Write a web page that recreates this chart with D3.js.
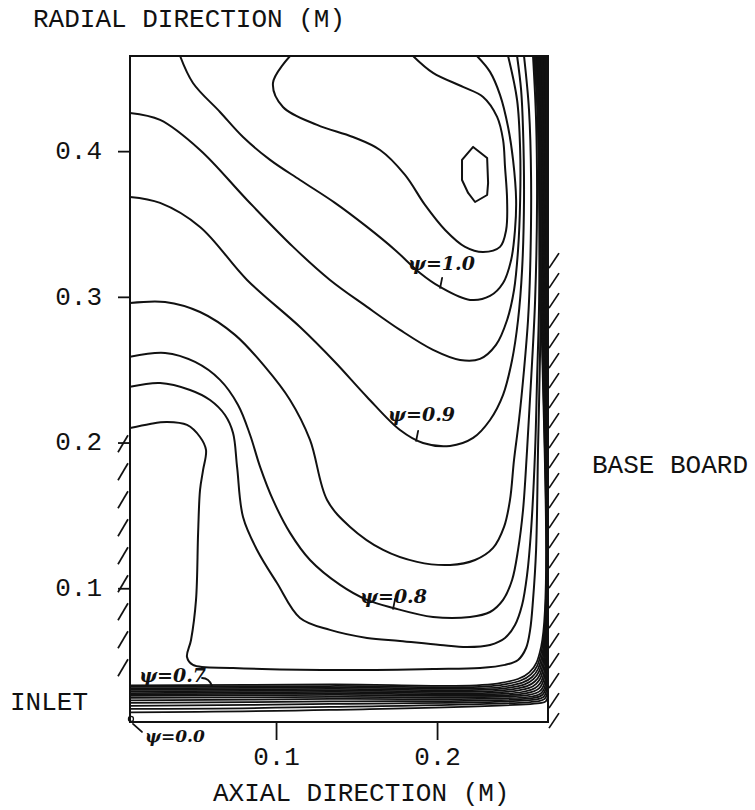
<!DOCTYPE html>
<html>
<head>
<meta charset="utf-8">
<script src="https://cdn.jsdelivr.net/npm/d3@7"></script>
<style>
  html, body { margin: 0; padding: 0; background: #fff; }
  svg { display: block; }
  .mono { font-family: "Liberation Mono", "Courier New", monospace; font-size: 26px; fill: #111; }
  .psi { font-family: "DejaVu Serif", "Liberation Serif", serif; font-style: italic; font-weight: bold; fill: #111; }
</style>
</head>
<body>
<svg id="chart" width="755" height="810"></svg>
<script>
// ---- chamber extent and axis ticks (metres) ----
const zDomain = [0.0093, 0.2689];   // axial
const rDomain = [0.0082, 0.4653];   // radial
const zTicks = [0.1, 0.2];
const rTicks = [0.1, 0.2, 0.3, 0.4];
const zTickLabels = ["0.1", "0.2"];
const rTickLabels = ["0.1", "0.2", "0.3", "0.4"];

// ---- interior stream lines: [axial, radial] points ----
const psi110 = [[0.2224,0.4029],[0.2311,0.3953],[0.2317,0.3782],[0.2311,0.3699],[0.2236,0.3651],[0.2193,0.3713],[0.2155,0.3802],[0.2155,0.3940]];
const psi105 = [[0.1087,0.4653],[0.0981,0.4468],[0.1043,0.4303],[0.1255,0.4180],[0.1478,0.4097],[0.1646,0.4008],[0.1801,0.3837],[0.1925,0.3631],[0.2050,0.3459],[0.2174,0.3343],[0.2286,0.3308],[0.2391,0.3343],[0.2429,0.3459],[0.2435,0.3665],[0.2422,0.3892],[0.2410,0.4077],[0.2373,0.4235],[0.2286,0.4372],[0.2161,0.4441],[0.1975,0.4537],[0.1851,0.4653]];
const psi100 = [[0.0404,0.4653],[0.0484,0.4468],[0.0652,0.4269],[0.0795,0.4097],[0.0963,0.3940],[0.1149,0.3802],[0.1366,0.3645],[0.1565,0.3480],[0.1739,0.3322],[0.1894,0.3164],[0.2019,0.3068],[0.2205,0.2979],[0.2329,0.3006],[0.2410,0.3095],[0.2460,0.3253],[0.2484,0.3459],[0.2491,0.3665],[0.2472,0.3940],[0.2441,0.4166],[0.2391,0.4386],[0.2329,0.4544],[0.2248,0.4653]];
const psi095 = [[0.0093,0.4262],[0.0280,0.4214],[0.0528,0.4008],[0.0820,0.3665],[0.1106,0.3343],[0.1335,0.3116],[0.1565,0.2931],[0.1770,0.2773],[0.1975,0.2636],[0.2143,0.2567],[0.2267,0.2574],[0.2366,0.2670],[0.2435,0.2841],[0.2478,0.3047],[0.2503,0.3322],[0.2516,0.3665],[0.2516,0.4008],[0.2497,0.4351],[0.2441,0.4653]];
const psi090 = [[0.0093,0.3686],[0.0280,0.3645],[0.0528,0.3480],[0.0820,0.3116],[0.1149,0.2793],[0.1366,0.2553],[0.1565,0.2313],[0.1770,0.2086],[0.1913,0.1997],[0.2081,0.1977],[0.2224,0.2032],[0.2329,0.2155],[0.2410,0.2327],[0.2466,0.2567],[0.2503,0.2841],[0.2528,0.3185],[0.2540,0.3665],[0.2534,0.4146],[0.2522,0.4420],[0.2497,0.4653]];
const psi085 = [[0.0093,0.2958],[0.0311,0.2965],[0.0528,0.2896],[0.0745,0.2739],[0.0932,0.2519],[0.1087,0.2292],[0.1211,0.2018],[0.1317,0.1606],[0.1460,0.1421],[0.1665,0.1263],[0.1876,0.1181],[0.2081,0.1160],[0.2236,0.1194],[0.2348,0.1277],[0.2416,0.1421],[0.2453,0.1606],[0.2478,0.1881],[0.2509,0.2155],[0.2540,0.2498],[0.2565,0.2841],[0.2578,0.3185],[0.2584,0.3802],[0.2571,0.4283],[0.2540,0.4653]];
const psi080 = [[0.0093,0.2588],[0.0311,0.2615],[0.0497,0.2553],[0.0652,0.2430],[0.0764,0.2258],[0.0839,0.2052],[0.0901,0.1833],[0.0981,0.1606],[0.1087,0.1380],[0.1211,0.1194],[0.1398,0.1023],[0.1565,0.0920],[0.1727,0.0865],[0.1975,0.0803],[0.2205,0.0803],[0.2329,0.0837],[0.2410,0.0920],[0.2466,0.1057],[0.2503,0.1263],[0.2534,0.1537],[0.2559,0.1949],[0.2584,0.2430],[0.2609,0.2979],[0.2621,0.3665],[0.2615,0.4214],[0.2596,0.4653]];
const psi0775 = [[0.0093,0.2382],[0.0280,0.2409],[0.0466,0.2361],[0.0590,0.2292],[0.0683,0.2189],[0.0733,0.2066],[0.0758,0.1833],[0.0795,0.1489],[0.0882,0.1263],[0.1006,0.1036],[0.1149,0.0796],[0.1335,0.0714],[0.1565,0.0659],[0.1770,0.0638],[0.2019,0.0611],[0.2186,0.0597],[0.2329,0.0611],[0.2422,0.0659],[0.2484,0.0748],[0.2528,0.0885],[0.2559,0.1091],[0.2584,0.1400],[0.2609,0.1949],[0.2621,0.2430],[0.2634,0.2979],[0.2634,0.3665],[0.2627,0.4214],[0.2602,0.4653]];
const psi075 = [[0.0093,0.2100],[0.0217,0.2128],[0.0323,0.2141],[0.0447,0.2121],[0.0528,0.2038],[0.0565,0.1949],[0.0547,0.1812],[0.0528,0.1675],[0.0516,0.1380],[0.0503,0.0920],[0.0472,0.0645],[0.0447,0.0528],[0.0484,0.0474],[0.0733,0.0453],[0.1354,0.0439],[0.1975,0.0446],[0.2267,0.0453],[0.2422,0.0474],[0.2503,0.0508],[0.2553,0.0590],[0.2578,0.0714],[0.2596,0.0920],[0.2615,0.1263],[0.2627,0.1949],[0.2640,0.2636],[0.2646,0.3322],[0.2640,0.4008],[0.2621,0.4420],[0.2609,0.4653]];

const interiorLevels = [1.10, 1.05, 1.00, 0.95, 0.90, 0.85, 0.80, 0.775, 0.75];
const interiorLines  = [psi110, psi105, psi100, psi095, psi090, psi085, psi080, psi0775, psi075];

// ---- jet band along the axis and the base board (one entry per level) ----
const bandLevels = [0.70, 0.65, 0.60, 0.55, 0.50, 0.45, 0.40, 0.35, 0.30, 0.25, 0.20, 0.15, 0.10, 0.05];
const bandInletR = [0.0333, 0.0323, 0.0312, 0.0302, 0.0292, 0.0281, 0.0271, 0.0261, 0.0247, 0.0230, 0.0213, 0.0192, 0.0172, 0.0148];
const bandMidR   = [0.0340, 0.0329, 0.0319, 0.0309, 0.0299, 0.0288, 0.0278, 0.0268, 0.0254, 0.0240, 0.0223, 0.0206, 0.0185, 0.0165];
const bandFloorR = [0.0350, 0.0340, 0.0329, 0.0319, 0.0309, 0.0299, 0.0288, 0.0278, 0.0268, 0.0257, 0.0247, 0.0237, 0.0226, 0.0213];
const bandWallZ  = [0.2646, 0.2649, 0.2652, 0.2655, 0.2658, 0.2661, 0.2665, 0.2668, 0.2671, 0.2674, 0.2677, 0.2680, 0.2683, 0.2686];
const bandTurn   = [0.0248, 0.0230, 0.0211, 0.0193, 0.0174, 0.0155, 0.0137, 0.0118, 0.0099, 0.0087, 0.0075, 0.0062, 0.0050, 0.0037];
const bandTopZ   = [0.2615, 0.2620, 0.2625, 0.2630, 0.2635, 0.2640, 0.2645, 0.2650, 0.2655, 0.2660, 0.2665, 0.2669, 0.2674, 0.2679];
const bandMidZ = 0.1335;
const bandWallR = 0.30;

// ---- hand annotations ----
const labelLevels = [1.0, 0.9, 0.8, 0.7, 0.0];
const labelAnchor = [[0.1820,0.3185],[0.1696,0.2148],[0.1522,0.0899],[0.0150,0.0357],[0.0186,-0.0055]];
const labelTarget = [[0.2019,0.3068],[0.1870,0.2018],[0.1727,0.0865],[0.0590,0.0329],[0.0099,0.0103]];

// ---- walls ----
const inletWallTopR = 0.205, inletWallBottomR = 0.035;   // solid wall above the inlet
const baseBoardTopR = 0.330;                              // hatched base board

// =====================================================
const svg = d3.select("#chart");
const x = d3.scaleLinear().domain(zDomain).range([130, 548]);
const y = d3.scaleLinear().domain(rDomain).range([722, 56]);

svg.append("defs").append("clipPath").attr("id", "box")
  .append("rect").attr("x", x(zDomain[0])).attr("y", y(rDomain[1]))
  .attr("width", x(zDomain[1]) - x(zDomain[0])).attr("height", y(rDomain[0]) - y(rDomain[1]));

const line = d3.line().x(d => x(d[0])).y(d => y(d[1])).curve(d3.curveCatmullRom.alpha(0.5));
const loop = d3.line().x(d => x(d[0])).y(d => y(d[1])).curve(d3.curveLinearClosed);

const plot = svg.append("g").attr("clip-path", "url(#box)");

// jet band
bandLevels.forEach((lv, i) => {
  const t = bandTurn[i], wz = bandWallZ[i], fr = bandFloorR[i];
  const pts = [
    [zDomain[0], bandInletR[i]],
    [bandMidZ, bandMidR[i]],
    [wz - t, fr],
    [wz - 0.293 * t, fr + 0.293 * t],
    [wz, fr + t],
    [wz, bandWallR],
    [bandTopZ[i], rDomain[1]]
  ];
  plot.append("path").attr("d", line(pts))
    .attr("fill", "none").attr("stroke", "#111").attr("stroke-width", 1.75);
});

// interior lines
interiorLines.forEach((pts, i) => {
  plot.append("path")
    .attr("d", interiorLevels[i] > 1.06 ? loop(pts) : line(pts))
    .attr("fill", "none").attr("stroke", "#111").attr("stroke-width", 2.0)
    .attr("stroke-linejoin", "round");
});

// frame
svg.append("rect")
  .attr("x", x(zDomain[0])).attr("y", y(rDomain[1]))
  .attr("width", x(zDomain[1]) - x(zDomain[0])).attr("height", y(rDomain[0]) - y(rDomain[1]))
  .attr("fill", "none").attr("stroke", "#111").attr("stroke-width", 2.0);

// axes
const yAxis = d3.axisLeft(y).tickValues(rTicks).tickSize(12).tickPadding(16)
  .tickFormat((d, i) => rTickLabels[i]);
const gy = svg.append("g").attr("transform", `translate(${x(zDomain[0])},0)`).call(yAxis);
const xAxis = d3.axisBottom(x).tickValues(zTicks).tickSize(18).tickPadding(7)
  .tickFormat((d, i) => zTickLabels[i]);
const gx = svg.append("g").attr("transform", `translate(0,${y(rDomain[0])})`).call(xAxis);
[gx, gy].forEach(g => {
  g.select(".domain").remove();
  g.selectAll(".tick line").attr("stroke", "#111").attr("stroke-width", 1.8);
  g.selectAll(".tick text").attr("class", "mono").attr("font-family", null).attr("font-size", null);
});
gy.selectAll(".tick text").attr("dy", "0.28em");

// hatching: wall above the inlet (left) and the base board (right)
const hatch = svg.append("g").attr("stroke", "#111").attr("stroke-width", 1.7).attr("fill", "none");
d3.range(y(inletWallTopR), y(inletWallBottomR) - 10, 28).forEach(py => {
  hatch.append("line").attr("x1", x(zDomain[0]) - 12).attr("y1", py + 17)
    .attr("x2", x(zDomain[0]) - 2).attr("y2", py);
});
d3.range(y(baseBoardTopR), y(rDomain[0]) + 6, 20).forEach(py => {
  hatch.append("line").attr("x1", x(zDomain[1]) + 1).attr("y1", py + 15)
    .attr("x2", x(zDomain[1]) + 11).attr("y2", py);
});

// titles
svg.append("text").attr("class", "mono").attr("x", 33).attr("y", 27).text("RADIAL DIRECTION (M)");
svg.append("text").attr("class", "mono").attr("x", 213).attr("y", 801).text("AXIAL DIRECTION (M)");
svg.append("text").attr("class", "mono").attr("x", 10).attr("y", 710).text("INLET");
svg.append("text").attr("class", "mono").attr("x", 592).attr("y", 473).text("BASE BOARD");

// stream-function labels
const ann = svg.append("g");
labelLevels.forEach((lv, i) => {
  const ax = x(labelAnchor[i][0]), ay = y(labelAnchor[i][1]);
  const tx = x(labelTarget[i][0]), ty = y(labelTarget[i][1]);
  ann.append("text").attr("class", "psi")
    .attr("x", ax).attr("y", ay)
    .attr("font-size", lv === 0 ? 17 : 19)
    .text("\u03C8=" + lv.toFixed(1));
  const p = d3.path();
  if (lv >= 0.8) {
    p.moveTo(tx + 2, ty - 9); p.lineTo(tx, ty + 1);
  } else if (lv > 0.1) {
    p.moveTo(tx - 8, ty - 8); p.quadraticCurveTo(tx - 1, ty - 8, tx + 2, ty);
  } else {
    p.moveTo(tx + 2, ty + 5); p.lineTo(tx + 11, ty + 13);
    ann.append("circle").attr("cx", tx).attr("cy", ty).attr("r", 2.5)
      .attr("fill", "none").attr("stroke", "#111").attr("stroke-width", 1.3);
  }
  ann.append("path").attr("d", p.toString()).attr("fill", "none")
    .attr("stroke", "#111").attr("stroke-width", 1.8).attr("stroke-linecap", "round");
});
</script>
</body>
</html>
